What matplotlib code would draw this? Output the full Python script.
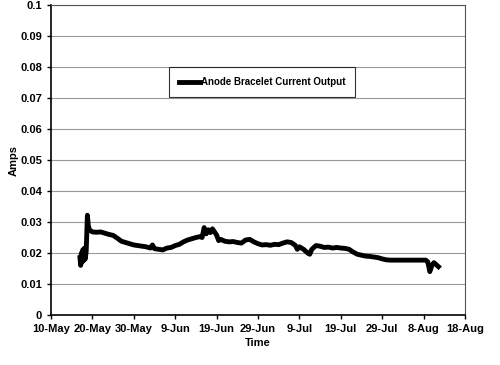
import matplotlib
matplotlib.use("Agg")
import matplotlib.pyplot as plt
import matplotlib.dates as mdates
import pandas as pd

plt.rcParams['font.family'] = ['Liberation Sans', 'DejaVu Sans']

# readings taken off the scanned chart, six per row
dates = [
    "2000-05-17 00:00", "2000-05-17 04:00", "2000-05-17 08:00", "2000-05-17 12:00", "2000-05-17 16:00", "2000-05-17 20:00",
    "2000-05-18 00:00", "2000-05-18 06:00", "2000-05-18 12:00", "2000-05-18 19:00", "2000-05-19 00:00", "2000-05-19 06:00",
    "2000-05-20 00:00", "2000-05-21 00:00", "2000-05-22 00:00", "2000-05-23 00:00", "2000-05-24 00:00", "2000-05-25 00:00",
    "2000-05-26 00:00", "2000-05-27 00:00", "2000-05-28 00:00", "2000-05-29 00:00", "2000-05-30 00:00", "2000-05-31 00:00",
    "2000-06-01 00:00", "2000-06-02 00:00", "2000-06-03 00:00", "2000-06-03 12:00", "2000-06-04 00:00", "2000-06-05 00:00",
    "2000-06-06 00:00", "2000-06-07 00:00", "2000-06-08 00:00", "2000-06-09 00:00", "2000-06-10 00:00", "2000-06-11 00:00",
    "2000-06-12 00:00", "2000-06-13 00:00", "2000-06-14 00:00", "2000-06-15 00:00", "2000-06-15 12:00", "2000-06-16 00:00",
    "2000-06-16 12:00", "2000-06-17 00:00", "2000-06-17 12:00", "2000-06-18 00:00", "2000-06-18 12:00", "2000-06-19 00:00",
    "2000-06-19 12:00", "2000-06-20 00:00", "2000-06-21 00:00", "2000-06-22 00:00", "2000-06-23 00:00", "2000-06-24 00:00",
    "2000-06-25 00:00", "2000-06-26 00:00", "2000-06-27 00:00", "2000-06-28 00:00", "2000-06-29 00:00", "2000-06-30 00:00",
    "2000-07-01 00:00", "2000-07-02 00:00", "2000-07-03 00:00", "2000-07-04 00:00", "2000-07-05 00:00", "2000-07-06 00:00",
    "2000-07-07 00:00", "2000-07-08 00:00", "2000-07-08 12:00", "2000-07-09 00:00", "2000-07-10 00:00", "2000-07-11 00:00",
    "2000-07-11 12:00", "2000-07-12 00:00", "2000-07-13 00:00", "2000-07-14 00:00", "2000-07-15 00:00", "2000-07-16 00:00",
    "2000-07-17 00:00", "2000-07-18 00:00", "2000-07-19 00:00", "2000-07-20 00:00", "2000-07-21 00:00", "2000-07-22 00:00",
    "2000-07-23 00:00", "2000-07-24 00:00", "2000-07-25 00:00", "2000-07-26 00:00", "2000-07-27 00:00", "2000-07-28 00:00",
    "2000-07-29 00:00", "2000-07-30 00:00", "2000-07-31 00:00", "2000-08-03 00:00", "2000-08-06 00:00", "2000-08-08 12:00",
    "2000-08-09 00:00", "2000-08-09 12:00", "2000-08-10 00:00", "2000-08-10 12:00", "2000-08-11 00:00", "2000-08-11 14:00",
]
amps = [
    0.0185, 0.0160, 0.0200, 0.0170, 0.0210, 0.0175,
    0.0215, 0.0180, 0.0205, 0.0322, 0.0290, 0.0275,
    0.0268, 0.0267, 0.0268, 0.0264, 0.0260, 0.0257,
    0.0248, 0.0238, 0.0234, 0.0230, 0.0226, 0.0224,
    0.0222, 0.0220, 0.0216, 0.0226, 0.0214, 0.0212,
    0.0210, 0.0216, 0.0218, 0.0224, 0.0228, 0.0236,
    0.0242, 0.0246, 0.0250, 0.0253, 0.0250, 0.0282,
    0.0262, 0.0275, 0.0266, 0.0278, 0.0268, 0.0258,
    0.0240, 0.0244, 0.0238, 0.0236, 0.0237, 0.0234,
    0.0232, 0.0242, 0.0244, 0.0236, 0.0230, 0.0226,
    0.0227, 0.0225, 0.0228, 0.0227, 0.0232, 0.0236,
    0.0234, 0.0225, 0.0212, 0.0220, 0.0212, 0.0200,
    0.0196, 0.0212, 0.0224, 0.0222, 0.0218, 0.0219,
    0.0216, 0.0218, 0.0216, 0.0215, 0.0212, 0.0203,
    0.0196, 0.0193, 0.0190, 0.0189, 0.0187, 0.0185,
    0.0181, 0.0178, 0.0177, 0.0177, 0.0177, 0.0177,
    0.0172, 0.0140, 0.0160, 0.0169, 0.0163, 0.0156,
]

y_ticks = [0, 0.01, 0.02, 0.03, 0.04, 0.05, 0.06, 0.07, 0.08, 0.09, 0.1]
y_labels = ["0", "0.01", "0.02", "0.03", "0.04", "0.05", "0.06", "0.07", "0.08", "0.09", "0.1"]

x = pd.to_datetime(dates)

fig = plt.figure(figsize=(5, 3.65), dpi=100)
ax = fig.add_axes([0.102, 0.137, 0.828, 0.849])

ax.plot(x, amps, color='black', linewidth=3.5, solid_joinstyle='round',
        label='Anode Bracelet Current Output')

ax.set_ylim(0, 0.1)
ax.set_yticks(y_ticks)
ax.set_yticklabels(y_labels)
ax.set_xlim(pd.Timestamp("2000-05-10"), pd.Timestamp("2000-08-18"))
ax.set_xticks(pd.date_range("2000-05-10", "2000-08-18", freq="10D"))
ax.xaxis.set_major_formatter(mdates.DateFormatter('%-d-%b'))

ax.yaxis.grid(True, color='#999999', linewidth=0.8)
ax.set_axisbelow(True)
for side in ['top', 'right']:
    ax.spines[side].set_color('#555555')
    ax.spines[side].set_linewidth(0.8)
for side in ['left', 'bottom']:
    ax.spines[side].set_linewidth(1.2)

ax.tick_params(axis='both', labelsize=8, length=3, width=1, direction='out')
for lab in ax.get_xticklabels() + ax.get_yticklabels():
    lab.set_fontweight('bold')

ax.set_xlabel("Time", fontsize=8, fontweight='bold', labelpad=3)
ax.set_ylabel("Amps", fontsize=8, fontweight='bold', labelpad=1)

leg = ax.legend(loc='center', bbox_to_anchor=(0.51, 0.752),
                frameon=True, fancybox=False, handlelength=2.2, handletextpad=0.1,
                borderpad=1.0, prop={'weight': 'bold', 'size': 7})
leg.get_frame().set_edgecolor('black')
leg.get_frame().set_linewidth(0.8)

fig.savefig("out.png", dpi=100)
